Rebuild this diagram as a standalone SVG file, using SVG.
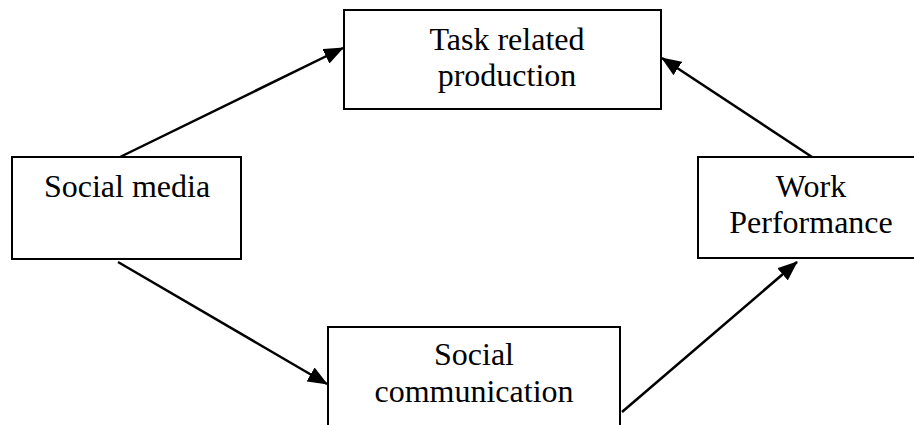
<svg xmlns="http://www.w3.org/2000/svg" width="914" height="425" viewBox="0 0 914 425">
<style>
.box{fill:#fff;stroke:#000;stroke-width:2}
.lbl{font-family:'Liberation Serif',serif;font-size:32px;fill:#000;text-anchor:middle}
.edge{stroke:#000;stroke-width:2.5;fill:none;marker-end:url(#ah)}
</style>
<defs>
<marker id="ah" markerUnits="userSpaceOnUse" markerWidth="20" markerHeight="16" refX="19" refY="8" orient="auto" viewBox="0 0 20 16">
<path d="M0,0 L20,8 L0,16 Z" fill="#000"/>
</marker>
</defs>
<rect width="914" height="425" fill="#fff"/>
<g id="connectors">
<line class="edge" x1="118" y1="158" x2="343" y2="48"/>
<line class="edge" x1="812" y1="157" x2="662" y2="58"/>
<line class="edge" x1="118" y1="262" x2="327" y2="384"/>
<line class="edge" x1="622" y1="412" x2="797" y2="262"/>
</g>
<g id="task">
<rect class="box" x="344" y="10" width="317" height="99"/>
<text class="lbl" x="507" y="50">Task related</text>
<text class="lbl" x="507" y="86">production</text>
</g>
<g id="socialmedia">
<rect class="box" x="12" y="157" width="229" height="102"/>
<text class="lbl" x="127" y="197">Social media</text>
</g>
<g id="work">
<rect class="box" x="698" y="157" width="230" height="101"/>
<text class="lbl" x="811" y="197">Work</text>
<text class="lbl" x="811" y="233">Performance</text>
</g>
<g id="socialcomm">
<rect class="box" x="328" y="327" width="292" height="110"/>
<text class="lbl" x="474" y="365">Social</text>
<text class="lbl" x="474" y="402">communication</text>
</g>
</svg>
